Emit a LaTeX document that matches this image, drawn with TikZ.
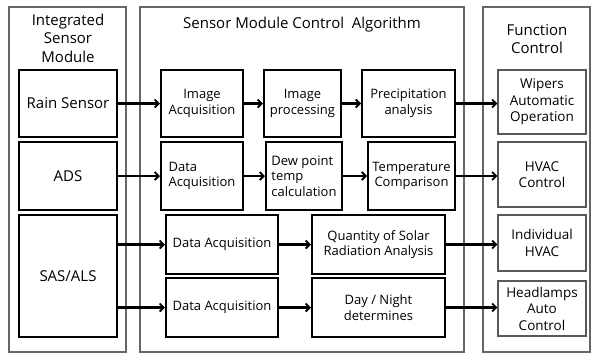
\documentclass[tikz,border=0pt]{standalone}
\usepackage{fontspec}
\setmainfont{Open Sans}
\usetikzlibrary{arrows.meta}

\tikzset{
  column/.style={draw=black!60,line width=1.6pt},
  blk/.style={draw=black,line width=2pt,align=center,inner sep=1pt,
    font=\fontsize{13}{15.5}\selectfont},
  sens/.style={blk,font=\fontsize{15}{18}\selectfont},
  fbox/.style={draw=black!65,line width=1.4pt,align=center,inner sep=1pt,
    font=\fontsize{13.5}{16.5}\selectfont},
  head/.style={align=center,font=\fontsize{15}{18.5}\selectfont},
  arr/.style={line width=2.2pt,-{Straight Barb[length=4pt,width=8pt,line width=1.8pt]}}
}

\begin{document}
\begin{tikzpicture}[x=1pt,y=-1pt]
                \useasboundingbox (0,0) rectangle (591,354);
                % columns
                \draw[column](9,7)rectangle(126,352);
                \draw[column](140,7)rectangle(464,352);
                \draw[column](483,7)rectangle(590,352);
                \node[head](hsens)at(68,38){Integrated\\Sensor\\Module};
                \node[head](halgo)at(302,25){Sensor Module Control\ \ Algorithm};
                \node[head](hfunc)at(537,39){Function\\Control};
                % sensors
                \node[sens,minimum width=98pt,minimum height=67pt](rain)at(68,103.5){Rain Sensor};
                \node[sens,minimum width=98pt,minimum height=68pt](ads)at(68,176){ADS};
                \node[sens,minimum width=98pt,minimum height=122pt](sas)at(68,276){SAS/ALS};
                % algorithm
                \node[blk,minimum width=82pt,minimum height=67pt](imgacq)at(202,103.5){Image\\Acquisition};
                \node[blk,minimum width=77pt,minimum height=67pt](imgproc)at(302.5,103.5){Image\\processing};
                \node[blk,minimum width=93pt,minimum height=67pt](precip)at(408.5,103.5){Precipitation\\analysis};
                \node[blk,minimum width=82pt,minimum height=68pt,align=left](dataacq)at(202,176){Data\\Acquisition};
                \node[blk,minimum width=76pt,minimum height=68pt,align=left](dewpt)at(304,176){Dew point\\temp\\calculation};
                \node[blk,minimum width=87pt,minimum height=68pt](tempcmp)at(411.5,176){Temperature\\Comparison};
                \node[blk,minimum width=112pt,minimum height=59pt](solacq)at(222,244.5){Data Acquisition};
                \node[blk,minimum width=133pt,minimum height=59pt](solar)at(378.5,244.5){Quantity of Solar\\Radiation Analysis};
                \node[blk,minimum width=112pt,minimum height=59pt](dnacq)at(222,307.5){Data Acquisition};
                \node[blk,minimum width=133pt,minimum height=59pt](daynight)at(378.5,307.5){Day / Night\\determines};
                % functions
                \node[fbox,minimum width=88pt,minimum height=64pt](wipers)at(542,102){Wipers\\Automatic\\Operation};
                \node[fbox,minimum width=88pt,minimum height=65pt](hvac)at(542,174.5){HVAC\\Control};
                \node[fbox,minimum width=88pt,minimum height=56pt](indiv)at(542,243){Individual\\HVAC};
                \node[fbox,minimum width=88pt,minimum height=55pt](lamps)at(542,308.5){Headlamps\\Auto\\Control};
                % arrows
                \draw[arr](rain)--(imgacq);
                \draw[arr](imgacq)--(imgproc);
                \draw[arr](imgproc)--(precip);
                \draw[arr](precip.east)--(wipers.west|-precip.east);
                \draw[arr](ads)--(dataacq);
                \draw[arr](dataacq)--(dewpt);
                \draw[arr](dewpt)--(tempcmp);
                \draw[arr](tempcmp.east)--(hvac.west|-tempcmp.east);
                \draw[arr](sas.east|-solacq.west)--(solacq.west);
                \draw[arr](solacq)--(solar);
                \draw[arr](solar.east)--(indiv.west|-solar.east);
                \draw[arr](sas.east|-dnacq.west)--(dnacq.west);
                \draw[arr](dnacq)--(daynight);
                \draw[arr](daynight.east)--(lamps.west|-daynight.east);
            \end{tikzpicture}
\end{document}
